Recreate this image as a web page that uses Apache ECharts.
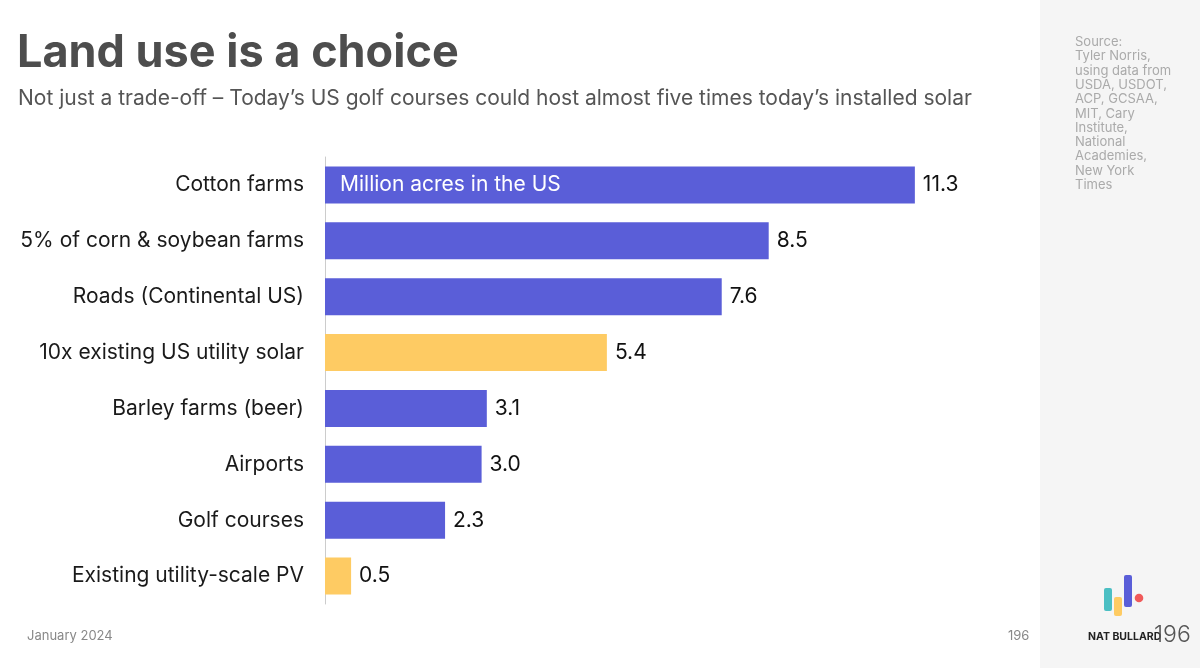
<!DOCTYPE html>
<html>
<head>
<meta charset="utf-8">
<script src="https://cdn.jsdelivr.net/npm/echarts@6/dist/echarts.min.js"></script>
<style>
  html, body { margin: 0; padding: 0; background: #fff; }
  #main { width: 1200px; height: 668px; }
</style>
</head>
<body>
<div id="main"></div>
<script>
// data
var categories = ['Cotton farms', '5% of corn & soybean farms', 'Roads (Continental US)',
  '10x existing US utility solar', 'Barley farms (beer)', 'Airports', 'Golf courses',
  'Existing utility-scale PV'];
var acres = [11.3, 8.5, 7.6, 5.4, 3.1, 3.0, 2.3, 0.5];
var isSolar = [false, false, false, true, false, false, false, true];
var unitNote = 'Million acres in the US';
var sourceLines = ['Source:', 'Tyler Norris,', 'using data from', 'USDA, USDOT,', 'ACP, GCSAA,',
  'MIT, Cary', 'Institute,', 'National', 'Academies,', 'New York', 'Times'];

var BLUE = '#5a5ed8', YELLOW = '#fecb63';
var FONT = 'Inter';

var myChart = echarts.init(document.getElementById('main'));

var option = {
  backgroundColor: '#ffffff',
  animation: false,
  textStyle: { fontFamily: FONT },
  title: [{
    text: 'Land use is a choice',
    left: 17, top: 31, padding: 0,
    textStyle: { fontSize: 45, fontWeight: 'bold', color: '#4d4d4d', fontFamily: FONT }
  }, {
    text: 'Not just a trade-off \u2013 Today\u2019s US golf courses could host almost five times today\u2019s installed solar',
    left: 18, top: 88, padding: 0,
    textStyle: { fontSize: 21, fontWeight: 'normal', color: '#555555', fontFamily: FONT }
  }],
  grid: { left: 325, top: 157, width: 626.4, height: 447 },
  xAxis: {
    type: 'value', min: 0, max: 12,
    axisLine: { show: false }, axisTick: { show: false },
    axisLabel: { show: false }, splitLine: { show: false }
  },
  yAxis: {
    type: 'category', inverse: true, data: categories,
    axisLine: { show: true, lineStyle: { color: '#cccccc', width: 1 } },
    axisTick: { show: false },
    axisLabel: { margin: 21, fontSize: 21, color: '#1a1a1a', fontFamily: FONT }
  },
  series: [{
    type: 'bar',
    barWidth: 37,
    data: acres.map(function (v, i) {
      return { value: v, itemStyle: { color: isSolar[i] ? YELLOW : BLUE } };
    }),
    label: {
      show: true, position: 'right', distance: 8,
      fontSize: 21, color: '#111111', fontFamily: FONT,
      formatter: function (p) { return p.value.toFixed(1); }
    }
  }, {
    type: 'bar',
    barWidth: 37,
    barGap: '-100%',
    silent: true,
    itemStyle: { color: 'rgba(0,0,0,0)' },
    data: acres.map(function (v, i) { return i === 0 ? v : '-'; }),
    label: {
      show: true, position: 'insideLeft', distance: 15,
      fontSize: 21, color: '#ffffff', fontFamily: FONT,
      formatter: function () { return unitNote; }
    }
  }],
  graphic: [
    { type: 'rect', left: 1040, top: 0, shape: { width: 160, height: 668 }, style: { fill: '#f5f5f5' }, z: -10 },
    { type: 'text', left: 1075, top: 35,
      style: { text: sourceLines.join('\n'), fontSize: 13, lineHeight: 14.3, fill: '#aaaaaa', fontFamily: FONT } },
    { type: 'text', left: 27, top: 630,
      style: { text: 'January 2024', fontSize: 13, fill: '#888888', fontFamily: FONT } },
    { type: 'text', left: 1008, top: 630,
      style: { text: '196', fontSize: 13, fill: '#888888', fontFamily: FONT } },
    // logo
    { type: 'rect', shape: { x: 1104, y: 588, width: 8, height: 23, r: 2 }, style: { fill: '#4bbfc3' } },
    { type: 'rect', shape: { x: 1114, y: 597, width: 8, height: 19, r: 2 }, style: { fill: '#fecb63' } },
    { type: 'rect', shape: { x: 1124, y: 575, width: 8, height: 32, r: 2 }, style: { fill: '#5a5ed8' } },
    { type: 'circle', shape: { cx: 1139, cy: 598, r: 4.3 }, style: { fill: '#f05a5a' } },
    { type: 'text', left: 1088, top: 631,
      style: { text: 'NAT BULLARD', fontSize: 10.5, fontWeight: 'bold', fill: '#222222', fontFamily: FONT } },
    { type: 'text', left: 1154, top: 624,
      style: { text: '196', fontSize: 23, fontWeight: 300, fill: '#555555', fontFamily: FONT } }
  ]
};

myChart.setOption(option);
</script>
</body>
</html>
